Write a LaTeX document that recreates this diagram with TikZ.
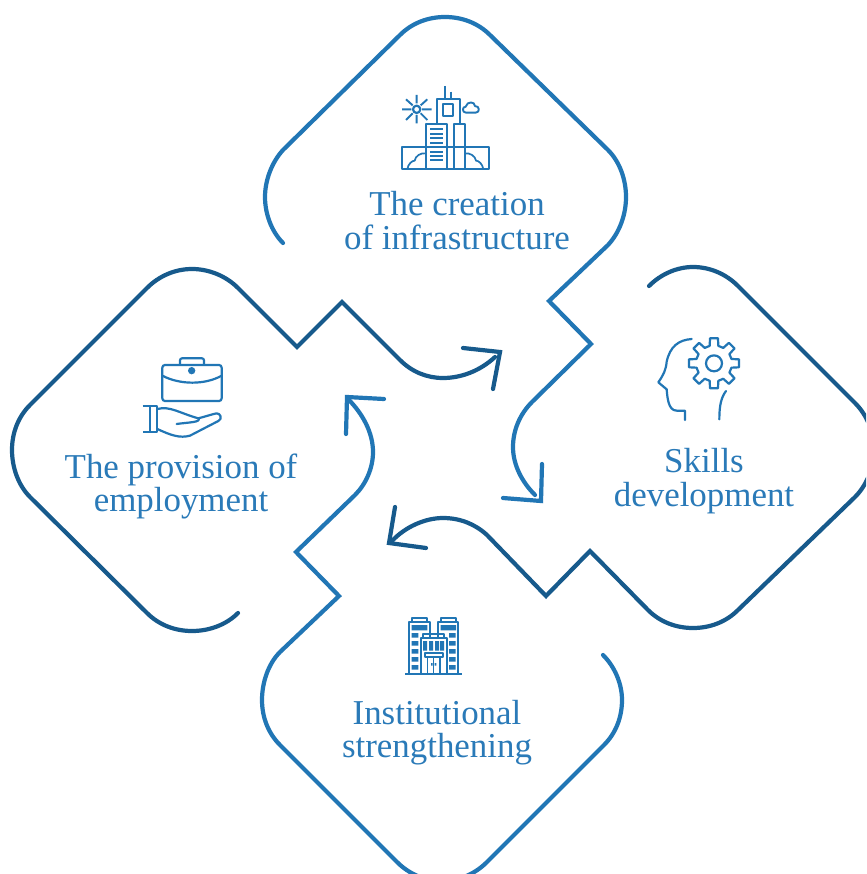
\documentclass[tikz,border=0pt]{standalone}
\usepackage{fontspec}
\setmainfont{Liberation Serif}
\definecolor{lightb}{HTML}{2176B5}
\definecolor{darkb}{HTML}{175A8C}
\definecolor{txtb}{HTML}{2A7AB8}
\tikzset{
  lightline/.style={draw=lightb,line width=4.2pt,line cap=round,line join=miter},
  darkline/.style={draw=darkb,line width=4.2pt,line cap=round,line join=miter},
  icon/.style={draw=lightb,line width=2.2pt,line join=round},
  thin icon/.style={draw=lightb,line width=1.4pt},
  label/.style={text=txtb,align=center,font=\fontsize{34.9}{33.5}\selectfont,inner sep=0pt}
}
\begin{document}
\begin{tikzpicture}[x=1pt,y=-1pt]
\clip (0,0) rectangle (866,874);
\fill[white] (0,0) rectangle (866,874);

% top shape
\draw[lightline] (283,243) .. controls (271,231) and (265,213) .. (265,197) .. controls (265,180) and (272,162) .. (283,150) -- (400,35) .. controls (412,23) and (428,17) .. (445,17) .. controls (462,17) and (478,23) .. (490,35) -- (608,150) .. controls (620,162) and (626,180) .. (626,197) .. controls (626,214) and (620,232) .. (608,245) -- (549,301) -- (591,344) -- (532,402) .. controls (520,414) and (513,430) .. (513,447) .. controls (513,465) and (522,482) .. (535,495);
\draw[lightline] (542,464) -- (541,501) -- (503,498);

% right shape
\draw[darkline] (649,286) .. controls (661,274) and (677,267) .. (693,267) .. controls (710,267) and (726,274) .. (738,286) -- (855,403) .. controls (867,415) and (874,432) .. (874,450) .. controls (874,467) and (867,485) .. (855,497) -- (738,610) .. controls (726,622) and (710,628) .. (693,628) .. controls (676,628) and (660,622) .. (648,610) -- (590,551) -- (546,596) -- (487,535) .. controls (475,524) and (460,518) .. (443,518) .. controls (425,518) and (405,527) .. (392,541);
\draw[darkline] (395,507) -- (389,543) -- (426,548);

% left shape
\draw[darkline] (238,613) .. controls (226,625) and (209,631) .. (192,631) .. controls (175,631) and (159,625) .. (147,613) -- (30,497) .. controls (18,485) and (12,467) .. (12,450) .. controls (12,433) and (18,417) .. (30,405) -- (147,288) .. controls (159,276) and (175,269) .. (192,269) .. controls (209,269) and (226,276) .. (238,288) -- (297,347) -- (342,302) -- (400,360) .. controls (412,372) and (427,378) .. (443,378) .. controls (461,378) and (480,371) .. (495,357);
\draw[darkline] (463,348) -- (500,352) -- (493,389);

% bottom shape
\draw[lightline] (603,655) .. controls (615,667) and (622,684) .. (622,700) .. controls (622,717) and (616,733) .. (604,745) -- (487,862) .. controls (475,874) and (459,881) .. (442,881) .. controls (425,881) and (409,874) .. (397,862) -- (280,745) .. controls (268,733) and (262,717) .. (262,700) .. controls (262,683) and (268,664) .. (280,652) -- (339,596) -- (296,552) -- (355,495) .. controls (366,484) and (373,468) .. (373,452) .. controls (373,433) and (363,414) .. (348,399);
\draw[lightline] (346,434) -- (347,397) -- (384,399);

% labels
\node[label] (creation) at (457,220.5) {The creation\\of infrastructure};
\node[label] (skills) at (704,481) {Skills\\development};
\node[label] (employment) at (181,486.5) {The provision of\\employment};
\node[label] (institutional) at (437,732.5) {Institutional\\strengthening};

% city icon
\begin{scope}[shift={(380,70)},scale=0.3333]
\draw[icon] (110,118) circle (11);
\draw[thin icon,line width=1.9pt] (66,118)--(94,118) (126,118)--(155,118) (110,75)--(110,100) (110,135)--(110,160) (78,88)--(98,106) (122,130)--(142,150) (142,88)--(122,106) (98,130)--(78,150);
\draw[icon] (170,163)--(170,87)--(240,87)--(240,163);
\draw[icon] (190,103) rectangle (220,138);
\draw[icon] (195,48)--(195,87) (212,65)--(212,87);
\draw[icon,line width=1.9pt] (258,128) .. controls (246,128) and (246,110) .. (257,110) .. controls (262,92) and (285,95) .. (285,108) .. controls (300,108) and (300,128) .. (287,128) -- cycle;
\draw[icon] (137,163) rectangle (202,298);
\draw[icon] (222,163) rectangle (254,298);
\draw[icon] (65,232) rectangle (328,298);
\draw[icon,line width=1.7pt] (150,178)--(190,178) (150,192)--(190,192) (150,205)--(190,205) (150,218)--(190,218) (150,232)--(190,232) (150,245)--(190,245) (150,258)--(190,258) (150,270)--(190,270);
\draw[icon,line width=1.7pt] (82,298) .. controls (84,282) and (96,272) .. (104,272) .. controls (106,258) and (122,248) .. (137,250);
\draw[icon,line width=1.7pt] (310,298) .. controls (308,282) and (296,272) .. (288,272) .. controls (286,258) and (270,248) .. (254,250);
\end{scope}

% head and gear icon
\begin{scope}[shift={(640,320)},scale=0.3333]
\draw[icon,line cap=round] (155,57) .. controls (115,60) and (90,80) .. (80,125) .. controls (78,150) and (70,165) .. (55,187) -- (80,208) .. controls (82,230) and (84,272) .. (110,272) -- (135,272) -- (135,300);
\draw[icon,line cap=round] (258,213) .. controls (244,232) and (238,255) .. (238,298);
\begin{scope}[shift={(222,130)}]
\draw[icon] (0,0) circle (24);
\draw[icon] (-14:54) \foreach \a in {0,45,...,315}{ -- (\a-14:54) -- (\a-9:76) -- (\a+9:76) -- (\a+14:54)} -- cycle;
\end{scope}
\end{scope}

% hand and briefcase icon
\begin{scope}[shift={(130,345)},scale=0.3333]
\draw[icon,rounded corners=2.6pt] (97,60) rectangle (275,168);
\draw[icon,rounded corners=2pt] (150,60)--(150,40)--(222,40)--(222,60);
\draw[icon] (97,92) .. controls (150,120) and (225,120) .. (275,92);
\fill[lightb] (185,77) circle (11);
\draw[icon] (38,182)--(82,182)--(82,260)--(38,260) (60,182)--(60,260);
\draw[icon,line cap=round] (82,192) .. controls (120,182) and (150,205) .. (205,220) .. controls (225,215) and (245,208) .. (260,205) .. controls (272,205) and (278,222) .. (265,228) -- (180,272) .. controls (150,280) and (125,272) .. (82,252);
\draw[icon,line cap=round] (205,220) .. controls (215,232) and (175,232) .. (140,237);
\end{scope}

% institution icon
\begin{scope}[shift={(395,605)},scale=0.3333]
\draw[icon,line width=1.7pt] (30,206)--(200,206);
\draw[icon,line width=1.7pt] (77,206)--(42,206)--(42,50)--(105,50)--(105,100);
\draw[icon,line width=1.7pt] (155,206)--(190,206)--(190,50)--(128,50)--(128,100);
\draw[icon,line width=1.7pt] (52,50)--(52,38)--(95,38)--(95,50) (138,50)--(138,38)--(182,38)--(182,50);
\fill[lightb] (50,60) rectangle (97,76) (137,60) rectangle (183,76);
\foreach \y in {84,108,132,156,180}{
  \fill[lightb] (50,\y) rectangle (70,\y+14) (162,\y) rectangle (182,\y+14);
}
\draw[icon,line width=1.7pt] (77,206) rectangle (155,100);
\draw[icon,line width=1.7pt] (85,100)--(85,86)--(147,86)--(147,100);
\fill[lightb] (84,108) rectangle (96,137) (102,108) rectangle (114,137) (120,108) rectangle (132,137) (135,108) rectangle (147,137);
\draw[icon,line width=1.7pt] (90,144) rectangle (143,155);
\draw[icon,line width=1.2pt] (97,155)--(97,206) (135,155)--(135,206) (116,155)--(116,206);
\fill[lightb] (108,174) rectangle (113,182) (119,174) rectangle (124,182);
\end{scope}
\end{tikzpicture}
\end{document}
